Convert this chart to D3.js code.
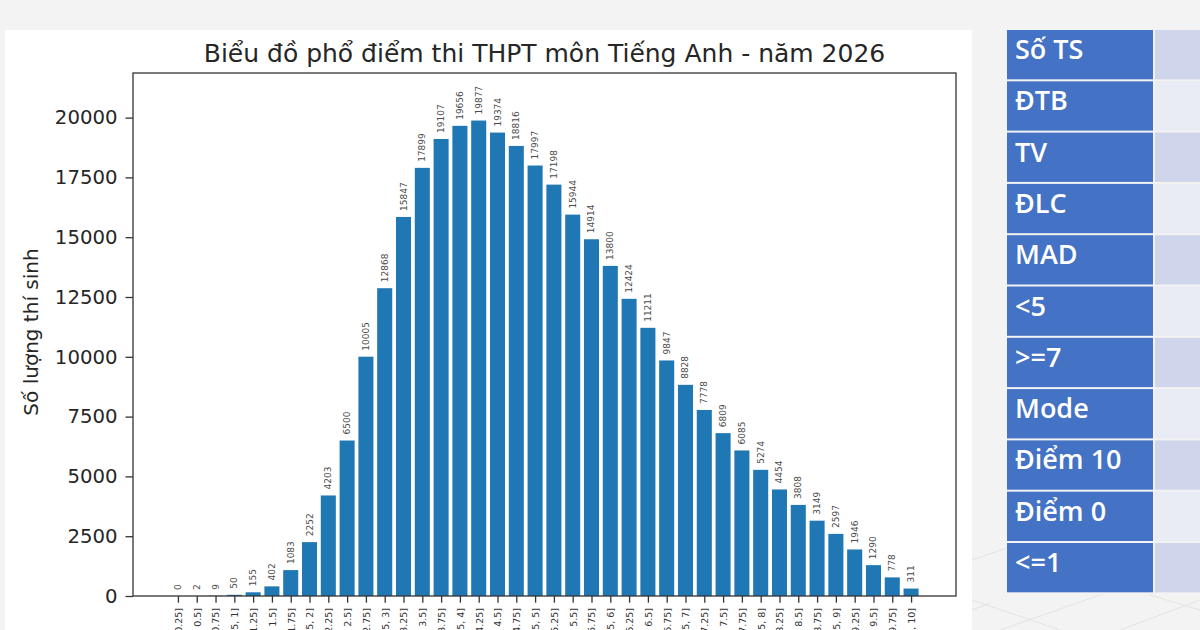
<!DOCTYPE html>
<html><head><meta charset="utf-8">
<script src="https://cdn.jsdelivr.net/npm/d3@7"></script>
<style>
html,body{margin:0;padding:0;background:#f3f3f3;overflow:hidden;}
svg{display:block;}
</style></head>
<body>
<svg id="c" width="1200" height="630"></svg>
<script>
const categories = ["[0, 0.25]","(0.25, 0.5]","(0.5, 0.75]","(0.75, 1]","(1, 1.25]","(1.25, 1.5]","(1.5, 1.75]","(1.75, 2]",
"(2, 2.25]","(2.25, 2.5]","(2.5, 2.75]","(2.75, 3]","(3, 3.25]","(3.25, 3.5]","(3.5, 3.75]","(3.75, 4]",
"(4, 4.25]","(4.25, 4.5]","(4.5, 4.75]","(4.75, 5]","(5, 5.25]","(5.25, 5.5]","(5.5, 5.75]","(5.75, 6]",
"(6, 6.25]","(6.25, 6.5]","(6.5, 6.75]","(6.75, 7]","(7, 7.25]","(7.25, 7.5]","(7.5, 7.75]","(7.75, 8]",
"(8, 8.25]","(8.25, 8.5]","(8.5, 8.75]","(8.75, 9]","(9, 9.25]","(9.25, 9.5]","(9.5, 9.75]","(9.75, 10]"];
const counts = [0,2,9,50,155,402,1083,2252,4203,6500,10005,12868,15847,17899,19107,19656,19877,19374,18816,17997,
17198,15944,14914,13800,12424,11211,9847,8828,7778,6809,6085,5274,4454,3808,3149,2597,1946,1290,778,311];
const yTicks = [0,2500,5000,7500,10000,12500,15000,17500,20000];
const titleText = "Biểu đồ phổ điểm thi THPT môn Tiếng Anh - năm 2026";
const yLabel = "Số lượng thí sinh";
const tableLabels = ["Số TS","ĐTB","TV","ĐLC","MAD","<5",">=7","Mode","Điểm 10","Điểm 0","<=1"];

const svg = d3.select("#c");
const F = "'DejaVu Sans', sans-serif";

// faint background lines
const bg = svg.append("g").attr("stroke","#e3e3e3").attr("stroke-width",1);
[[972,600,1060,630],[972,560,1007,548],[1000,630,1100,595],[1120,630,1200,600],[1150,595,1200,610],[972,610,990,603]]
  .forEach(l=>bg.append("line").attr("x1",l[0]).attr("y1",l[1]).attr("x2",l[2]).attr("y2",l[3]));

// white panel
svg.append("rect").attr("x",5).attr("y",30).attr("width",967).attr("height",600).attr("fill","#ffffff");

const L=133, R=956, T=73, B=596;
const n = categories.length;
const x = d3.scaleLinear().domain([-0.4 - 0.05*(n-0.2), (n-1)+0.4 + 0.05*(n-0.2)]).range([L,R]);
const y = d3.scaleLinear().domain([0, d3.max(counts)*1.1]).range([B,T]);
const bw = x(0.8)-x(0);

const g = svg.append("g");
g.selectAll("rect.bar").data(counts).join("rect").attr("class","bar")
  .attr("x",(d,i)=>x(i)-bw/2).attr("width",bw)
  .attr("y",d=>y(d)).attr("height",d=>B-y(d))
  .attr("fill","#1f77b4");

// bar labels
g.selectAll("text.bl").data(counts).join("text").attr("class","bl")
  .attr("transform",(d,i)=>`translate(${x(i)},${y(d)-6}) rotate(-90)`)
  .attr("dominant-baseline","central").attr("text-anchor","start")
  .attr("font-family",F).attr("font-size",9).attr("fill","#4a4a4a")
  .text(d=>d);

// axes
const ya = svg.append("g").attr("transform",`translate(${L},0)`)
  .call(d3.axisLeft(y).tickValues(yTicks).tickSize(7.5).tickPadding(8).tickFormat(d3.format("d")));
ya.select(".domain").remove();
ya.selectAll("text").attr("font-family",F).attr("font-size",19.7).attr("fill","#262626");
ya.selectAll("line").attr("stroke","#333").attr("stroke-width",1.3);

const xa = svg.append("g").attr("transform",`translate(0,${B})`)
  .call(d3.axisBottom(x).tickValues(d3.range(n)).tickSize(6.7).tickFormat(i=>categories[i]));
xa.select(".domain").remove();
xa.selectAll("line").attr("stroke","#333").attr("stroke-width",1.3);
xa.selectAll("text").attr("font-family",F).attr("font-size",9.5).attr("fill","#333")
  .attr("transform","translate(0,12) rotate(-90)").attr("text-anchor","end")
  .attr("dy","0.35em").attr("x",0).attr("y",0);

// frame
svg.append("rect").attr("x",L).attr("y",T).attr("width",R-L).attr("height",B-T)
  .attr("fill","none").attr("stroke","#333").attr("stroke-width",1.3);

// title and y label
svg.append("text").attr("x",(L+R)/2).attr("y",62).attr("text-anchor","middle")
  .attr("font-family",F).attr("font-size",25).attr("fill","#262626").text(titleText);
svg.append("text").attr("transform",`translate(38,332) rotate(-90)`).attr("text-anchor","middle")
  .attr("font-family",F).attr("font-size",20).attr("fill","#262626").text(yLabel);

// right table
const rowH = 51.3, top0 = 30;
const tg = svg.append("g");
tableLabels.forEach((lab,i)=>{
  const ty = top0 + i*rowH;
  tg.append("rect").attr("x",1007).attr("y",ty).attr("width",146).attr("height",rowH-2).attr("fill","#4472c4");
  tg.append("rect").attr("x",1155).attr("y",ty).attr("width",60).attr("height",rowH-2).attr("fill", i%2===0 ? "#cfd5ea" : "#e9ebf5");
  tg.append("text").attr("x",1015).attr("y",ty+29).attr("font-family","'Open Sans', sans-serif")
    .attr("font-weight",600).attr("font-size",27).attr("fill","#ffffff").text(lab);
});
</script>
</body></html>
